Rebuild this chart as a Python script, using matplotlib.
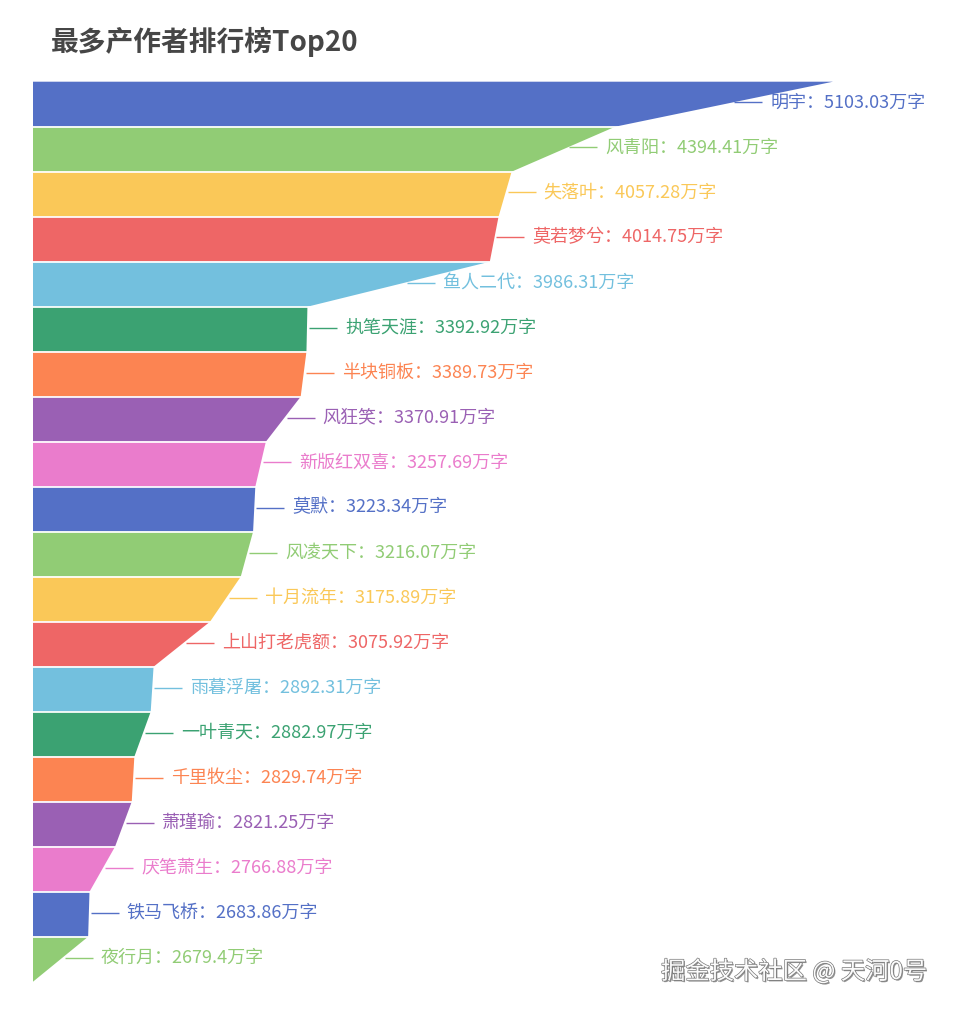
import matplotlib
matplotlib.use("Agg")
import matplotlib.pyplot as plt
from matplotlib.patches import Polygon
import matplotlib.patheffects as pe

plt.rcParams['font.family'] = ['Noto Sans CJK SC', 'DejaVu Sans']

# ---------------- data ----------------
names = ['明宇', '风青阳', '失落叶', '莫若梦兮', '鱼人二代', '执笔天涯', '半块铜板', '风狂笑',
         '新版红双喜', '莫默', '风凌天下', '十月流年', '上山打老虎额', '雨暮浮屠', '一叶青天',
         '千里牧尘', '萧瑾瑜', '厌笔萧生', '铁马飞桥', '夜行月']
values = [5103.03, 4394.41, 4057.28, 4014.75, 3986.31, 3392.92, 3389.73, 3370.91,
          3257.69, 3223.34, 3216.07, 3175.89, 3075.92, 2892.31, 2882.97,
          2829.74, 2821.25, 2766.88, 2683.86, 2679.4]
unit = '万字'
title = '最多产作者排行榜Top20'
watermark = '掘金技术社区 @ 天河0号'
palette = ['#5470c6', '#91cc75', '#fac858', '#ee6666', '#73c0de',
           '#3ba272', '#fc8452', '#9a60b4', '#ea7ccc']
funnel_min = 2500.0
funnel_max = max(values)

# ---------------- figure ----------------
W, H, DPI = 954, 1013, 100
fig = plt.figure(figsize=(W / DPI, H / DPI), dpi=DPI)
fig.patch.set_facecolor('white')

left_px, right_px = 33, 833
top_px, bottom_px = 81.7, 981.7
ax = fig.add_axes([left_px / W, 1 - bottom_px / H,
                   (right_px - left_px) / W, (bottom_px - top_px) / H])
n = len(values)
ax.set_xlim(funnel_min, funnel_max)
ax.set_ylim(n, 0)
ax.axis('off')

px_x = (funnel_max - funnel_min) / (right_px - left_px)   # value units per pixel
px_y = n / (bottom_px - top_px)                              # row units per pixel

for i, (name, v) in enumerate(zip(names, values)):
    nxt = values[i + 1] if i + 1 < n else funnel_min
    color = palette[i % len(palette)]
    poly = Polygon([(funnel_min, i), (v, i), (nxt, i + 1), (funnel_min, i + 1)],
                   closed=True, facecolor=color, edgecolor='none',
                   clip_on=False)
    ax.add_patch(poly)

    ly = i + 0.5 - 1.7 * px_y
    frac = ly - i
    edge = v + (nxt - v) * frac
    ax.plot([edge + 2 * px_x, edge + 30 * px_x], [ly, ly], color=color,
            linewidth=1.0, clip_on=False, solid_capstyle='butt')
    ax.text(edge + 38 * px_x, ly, f'{name}：{v:g}{unit}', color=color,
            fontsize=13, va='center', ha='left', clip_on=False)

# white separators between segments
for i in range(1, n):
    right = values[i]
    ax.plot([funnel_min - 2 * px_x, max(values[i - 1], right) + 0 * px_x], [i, i],
            color='white', linewidth=1.25, clip_on=False, solid_capstyle='butt', zorder=3)

fig.text(51 / W, 1 - 42 / H, title, fontsize=20, fontweight='bold',
         color='#464646', ha='left', va='center')

fig.text(927 / W, 1 - 972 / H, watermark, fontsize=17.5, color='#fbfbfb',
         ha='right', va='center',
         path_effects=[pe.withSimplePatchShadow(offset=(1.0, -1.0), shadow_rgbFace='#777777', alpha=0.8),
                       pe.withStroke(linewidth=1.0, foreground='#7a7a7a')])

fig.savefig('out.png', dpi=DPI, facecolor='white')
